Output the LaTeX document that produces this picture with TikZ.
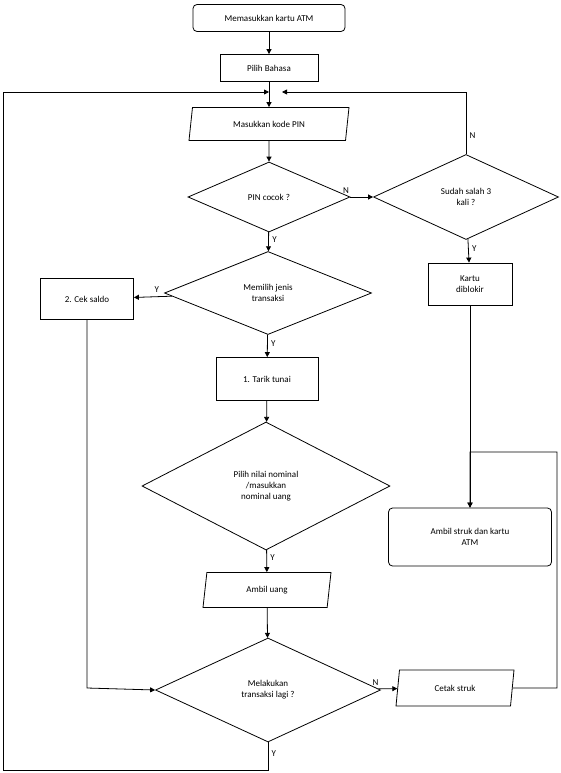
\documentclass[tikz,border=0pt]{standalone}
\usepackage{fontspec}
\setmainfont{Carlito}
\usetikzlibrary{shapes.geometric,arrows.meta}
\begin{document}
\begin{tikzpicture}[x=1pt,y=-1pt,font=\fontsize{9}{11}\selectfont,
    box/.style={draw,thick,minimum height=27pt,align=center},
    term/.style={box,rounded corners=4pt},
    io/.style={draw,thick,trapezium,trapezium left angle=75,trapezium right angle=105,trapezium stretches body,minimum height=33pt,align=center},
    choice/.style={draw,thick,diamond,aspect=2.3,inner sep=1pt,align=center},
    flow/.style={thick,-{Triangle[length=5pt,width=5pt]}}]
    \useasboundingbox (0,0) rectangle (561,773);
    \fill[white] (0,0) rectangle (561,773);

    \node[term,minimum width=152pt] (start) at (269,18) {Memasukkan kartu ATM};
    \node[box,minimum width=98pt] (bahasa) at (269,68) {Pilih Bahasa};
    \node[io,minimum width=160pt] (pin) at (269,124) {Masukkan kode PIN};
    \node[choice,minimum width=162pt,minimum height=70pt] (cocok) at (269,197) {PIN cocok ?};
    \node[choice,minimum width=185pt,minimum height=85pt] (salah) at (466,197) {Sudah salah 3\\kali ?};
    \node[box,minimum width=84pt,minimum height=42pt] (blokir) at (470,284) {Kartu\\diblokir};
    \node[choice,minimum width=207pt,minimum height=83pt] (jenis) at (268,293) {Memilih jenis\\transaksi};
    \node[box,minimum width=93pt,minimum height=41pt] (saldo) at (87,299) {2. Cek saldo};
    \node[box,minimum width=102pt,minimum height=43pt] (tarik) at (267,379) {1. Tarik tunai};
    \node[choice,minimum width=248pt,minimum height=128pt] (nominal) at (266,486) {Pilih nilai nominal\\/masukkan\\nominal uang};
    \node[term,minimum width=163pt,minimum height=58pt] (struk) at (470,537) {Ambil struk dan kartu\\ATM};
    \node[io,minimum width=128pt,minimum height=35pt] (uang) at (267,590) {Ambil uang};
    \node[io,minimum width=118pt,minimum height=36pt] (cetak) at (455,688) {Cetak struk};
    \node[choice,minimum width=225pt,minimum height=104pt] (lagi) at (268,690) {Melakukan\\transaksi lagi ?};

    \coordinate (jl) at (269,92);
    \coordinate (jr) at (282,92);

    \draw[flow] (start) -- (bahasa);
    \draw[flow] (bahasa) -- (pin);
    \draw[flow] (pin) -- (cocok);
    \draw[flow] (cocok) -- node[above left,pos=0.1]{N} (salah);
    \draw[flow] (cocok) -- node[right,pos=0.4]{Y} (jenis);
    \draw[flow] (salah) -- node[right,pos=0.4]{Y} (blokir);
    \draw[flow] (salah.north) -- node[right,pos=0.3]{N} (466,92) -- (jr);
    \draw[flow] (jenis) -- node[above,pos=0.4]{Y} (saldo);
    \draw[flow] (jenis) -- node[right,pos=0.4]{Y} (tarik);
    \draw[flow] (tarik) -- (nominal);
    \draw[flow] (nominal) -- node[right,pos=0.35]{Y} (uang);
    \draw[flow] (uang) -- (lagi);
    \draw[flow] (saldo) -- (87,688) -- (lagi.west);
    \draw[flow] (lagi) -- node[above left,pos=0.2]{N} (cetak);
    \draw[flow] (cetak) -- (557,688) -- (557,452) -- (470,452) -- (struk);
    \draw[flow] (blokir) -- (struk);
    \draw[flow] (lagi.south) -- node[right,pos=0.4]{Y} (268,770) -- (3,770) -- (3,92) -- (jl);
\end{tikzpicture}
\end{document}
